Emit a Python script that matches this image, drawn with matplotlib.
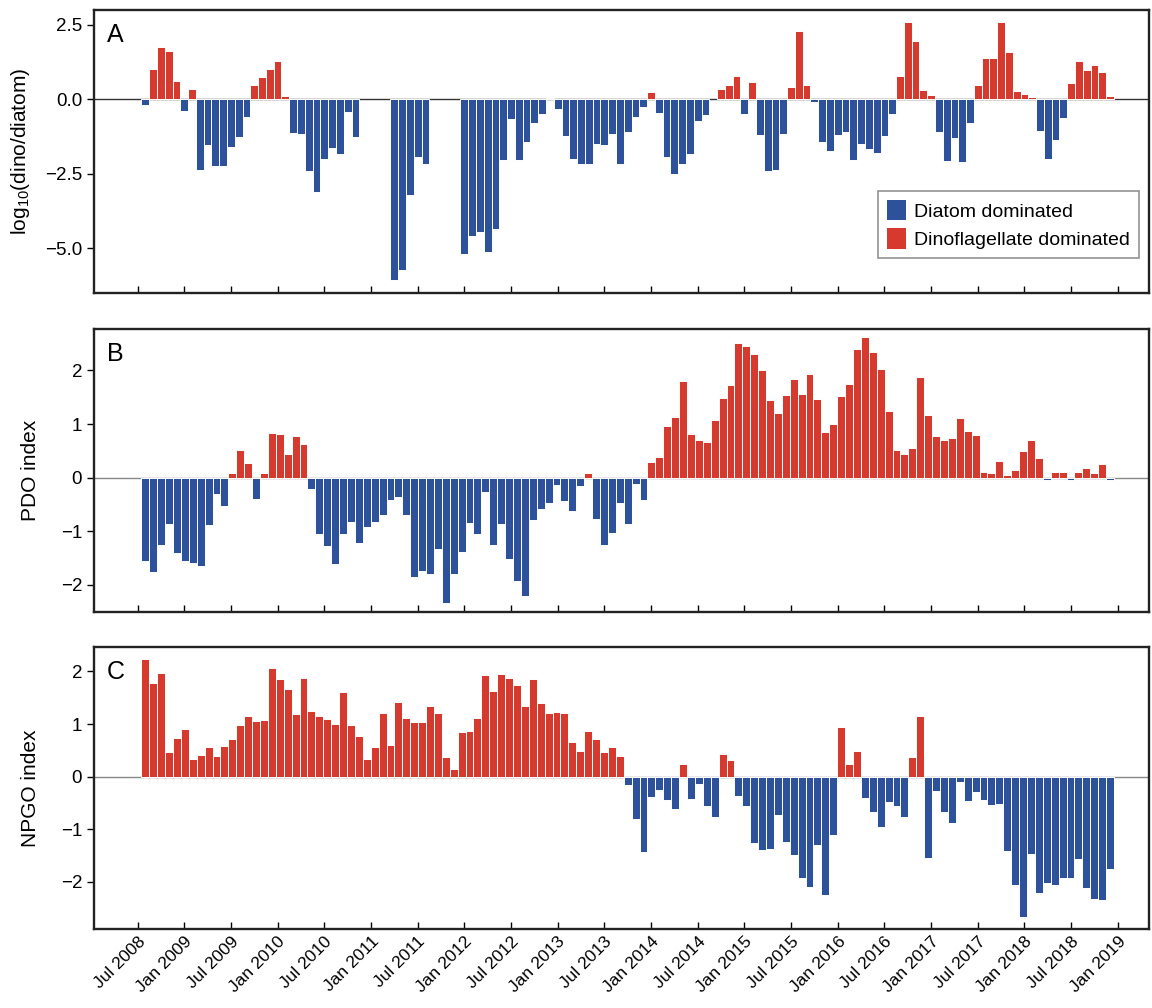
import numpy as np
import pandas as pd
import matplotlib
matplotlib.use('Agg')
import matplotlib.pyplot as plt
from matplotlib.patches import Patch
from matplotlib.ticker import FuncFormatter

plt.rcParams['font.family'] = ['Liberation Sans', 'DejaVu Sans']
plt.rcParams['mathtext.fontset'] = 'custom'
plt.rcParams['mathtext.rm'] = 'Liberation Sans'

# months counted from Jul 2008 (0) ; panel A runs Aug 2008 .. Dec 2018, nan = no sample
ratio_months = np.arange(1, 126)
ratio = [-0.20, 1.03, 1.76, 1.62, 0.62, -0.39, 0.36, -2.36, -1.54, -2.24,
         -2.24, -1.59, -1.28, -0.58, 0.49, 0.75, 1.03, 1.29, 0.12, -1.12,
         -1.16, -2.41, -3.10, -2.00, -1.63, -1.83, -0.43, -1.26, np.nan, np.nan,
         np.nan, np.nan, -6.08, -5.75, -3.20, -1.93, -2.18, np.nan, np.nan, np.nan,
         np.nan, -5.19, -4.58, -4.47, -5.13, -4.35, -2.05, -0.67, -2.05, -1.44,
         -0.79, -0.51, 0.04, -0.34, -1.23, -2.02, -2.17, -2.17, -1.49, -1.52,
         -1.16, -2.17, -1.09, -0.60, -0.25, 0.25, -0.47, -1.94, -2.50, -2.19,
         -1.83, -0.74, -0.54, np.nan, 0.36, 0.47, 0.77, -0.51, 0.58, -1.21,
         -2.42, -2.39, -1.16, 0.42, 2.30, 0.47, -0.08, -1.44, -1.75, -1.20,
         -1.09, -2.03, -1.49, -1.68, -1.80, -1.23, -0.51, 0.79, 2.58, 1.95,
         0.31, 0.16, -1.10, -2.09, -1.31, -2.11, -0.79, 0.49, 1.40, 1.37,
         2.58, 1.60, 0.28, 0.19, 0.06, -1.08, -2.00, -1.36, -0.64, 0.53,
         1.29, 0.98, 1.14, 0.93, 0.10]

# PDO index, Sep 2008 .. Nov 2018
pdo = [-1.55, -1.76, -1.25, -0.87,
       -1.40, -1.55, -1.59, -1.65, -0.88, -0.31, -0.53, 0.09, 0.52, 0.27, -0.40, 0.08,
       0.83, 0.82, 0.44, 0.78, 0.62, -0.22, -1.05, -1.27, -1.61, -1.06, -0.82, -1.21,
       -0.92, -0.83, -0.69, -0.42, -0.37, -0.69, -1.86, -1.74, -1.79, -1.34, -2.33, -1.79,
       -1.38, -0.85, -1.05, -0.27, -1.26, -0.87, -1.52, -1.93, -2.21, -0.79, -0.59, -0.48,
       -0.13, -0.43, -0.63, -0.16, 0.08, -0.78, -1.25, -1.04, -0.48, -0.87, -0.11, -0.41,
       0.30, 0.38, 0.97, 1.13, 1.80, 0.82, 0.70, 0.67, 1.08, 1.49, 1.72, 2.51,
       2.45, 2.30, 2.00, 1.44, 1.20, 1.54, 1.84, 1.56, 1.94, 1.47, 0.86, 1.01,
       1.53, 1.75, 2.40, 2.62, 2.35, 2.03, 1.25, 0.52, 0.45, 0.56, 1.88, 1.17,
       0.77, 0.70, 0.74, 1.12, 0.88, 0.79, 0.10, 0.09, 0.32, 0.05, 0.15, 0.50,
       0.70, 0.37, -0.05, 0.11, 0.11, -0.04, 0.11, 0.18, 0.09, 0.26, -0.04]

# NPGO index, same months as PDO
npgo = [2.23, 1.78, 1.97, 0.46, 0.74, 0.91, 0.34, 0.42, 0.57, 0.39,
        0.58, 0.72, 0.99, 1.16, 1.05, 1.07, 2.07, 1.85, 1.66, 1.19,
        1.87, 1.25, 1.15, 1.09, 1.01, 1.61, 0.99, 0.78, 0.34, 0.56,
        1.21, 0.61, 1.41, 1.12, 1.04, 1.04, 1.34, 1.21, 0.38, 0.15,
        0.84, 0.86, 1.12, 1.93, 1.62, 1.95, 1.87, 1.74, 1.35, 1.86,
        1.40, 1.21, 1.23, 1.21, 0.65, 0.48, 0.86, 0.72, 0.46, 0.57,
        0.40, -0.15, -0.81, -1.44, -0.39, -0.26, -0.45, -0.62, 0.24, -0.43,
        -0.14, -0.55, -0.77, 0.43, 0.32, -0.36, -0.55, -1.26, -1.40, -1.38,
        -0.73, -1.25, -1.48, -1.92, -2.10, -1.30, -2.24, -1.10, 0.94, 0.24,
        0.48, -0.41, -0.68, -0.95, -0.48, -0.55, -0.77, 0.37, 1.16, -1.54,
        -0.27, -0.67, -0.88, -0.11, -0.46, -0.30, -0.44, -0.54, -0.52, -1.42,
        -2.05, -2.67, -1.47, -2.22, -2.03, -2.05, -1.92, -1.92, -1.57, -2.11,
        -2.32, -2.34, -1.75]

tick_months = np.arange(0, 127, 6)
tick_labels = [d.strftime('%b %Y') for d in pd.date_range('2008-07-01', '2019-01-01', freq='6MS')]

blue = '#2e519c'
red = '#d63a2f'

fig = plt.figure(figsize=(11.52, 10.08), dpi=100)
axA = fig.add_axes([0.0816, 0.7096, 0.9157, 0.2805])
axB = fig.add_axes([0.0816, 0.3932, 0.9157, 0.2802], sharex=axA)
axC = fig.add_axes([0.0816, 0.0781, 0.9157, 0.2798], sharex=axA)


def draw(ax, x, y, w, zero_col):
    x = np.asarray(x, float)
    y = np.asarray(y, float)
    ok = ~np.isnan(y)
    cols = np.where(y[ok] >= 0, red, blue)
    ax.bar(x[ok], y[ok], width=w, color=cols, edgecolor='white', linewidth=0.7, zorder=2)
    ax.axhline(0, color=zero_col, lw=1, zorder=1)
    for s in ax.spines.values():
        s.set_linewidth(1.7)
        s.set_color('#222222')
    ax.tick_params(axis='x', direction='in', length=5, width=1, labelsize=12.5)
    ax.tick_params(axis='y', direction='out', length=5, width=1, labelsize=13.5)


draw(axA, ratio_months, ratio, 1.0, '#333333')
# PDO/NPGO bars are spread over the same span as panel A
x_idx = np.linspace(ratio_months[0], ratio_months[-1], len(pdo))
step = x_idx[1] - x_idx[0]
draw(axB, x_idx, pdo, step, '#888888')
draw(axC, x_idx, npgo, step, '#888888')

axA.set_xlim(-5.6, 130.0)
axA.set_xticks(tick_months)
axA.set_ylim(-6.5, 3.0)
axA.set_yticks([2.5, 0, -2.5, -5.0])
axA.yaxis.set_major_formatter(FuncFormatter(lambda v, p: f'{v:.1f}'.replace('-', '\u2212')))
axB.set_ylim(-2.5, 2.77)
axB.set_yticks([-2, -1, 0, 1, 2])
axC.set_ylim(-2.9, 2.46)
axC.set_yticks([-2, -1, 0, 1, 2])

axA.tick_params(labelbottom=False)
axB.tick_params(labelbottom=False)
axC.set_xticklabels(tick_labels, rotation=45, ha='right', va='top', rotation_mode='anchor')

axA.set_ylabel(r'log$_{\mathregular{10}}$(dino/diatom)', fontsize=15)
axB.set_ylabel('PDO index', fontsize=15)
axC.set_ylabel('NPGO index', fontsize=15)
axA.yaxis.set_label_coords(-0.059, 0.5)
axB.yaxis.set_label_coords(-0.051, 0.5)
axC.yaxis.set_label_coords(-0.051, 0.5)

for ax, letter in zip([axA, axB, axC], ['A', 'B', 'C']):
    ax.text(0.012, 0.955, letter, transform=ax.transAxes, fontsize=18, va='top', ha='left')

handles = [Patch(facecolor=blue, label='Diatom dominated'),
           Patch(facecolor=red, label='Dinoflagellate dominated')]
leg = axA.legend(handles=handles, loc='lower right', bbox_to_anchor=(0.9905, 0.1227),
                 borderaxespad=0, fontsize=14, fancybox=False, edgecolor='#777777',
                 handlelength=1.0, handleheight=1.25, handletextpad=0.4, borderpad=0.45,
                 labelspacing=0.4)
leg.get_frame().set_linewidth(1.2)

fig.savefig('out.png', dpi=100)
